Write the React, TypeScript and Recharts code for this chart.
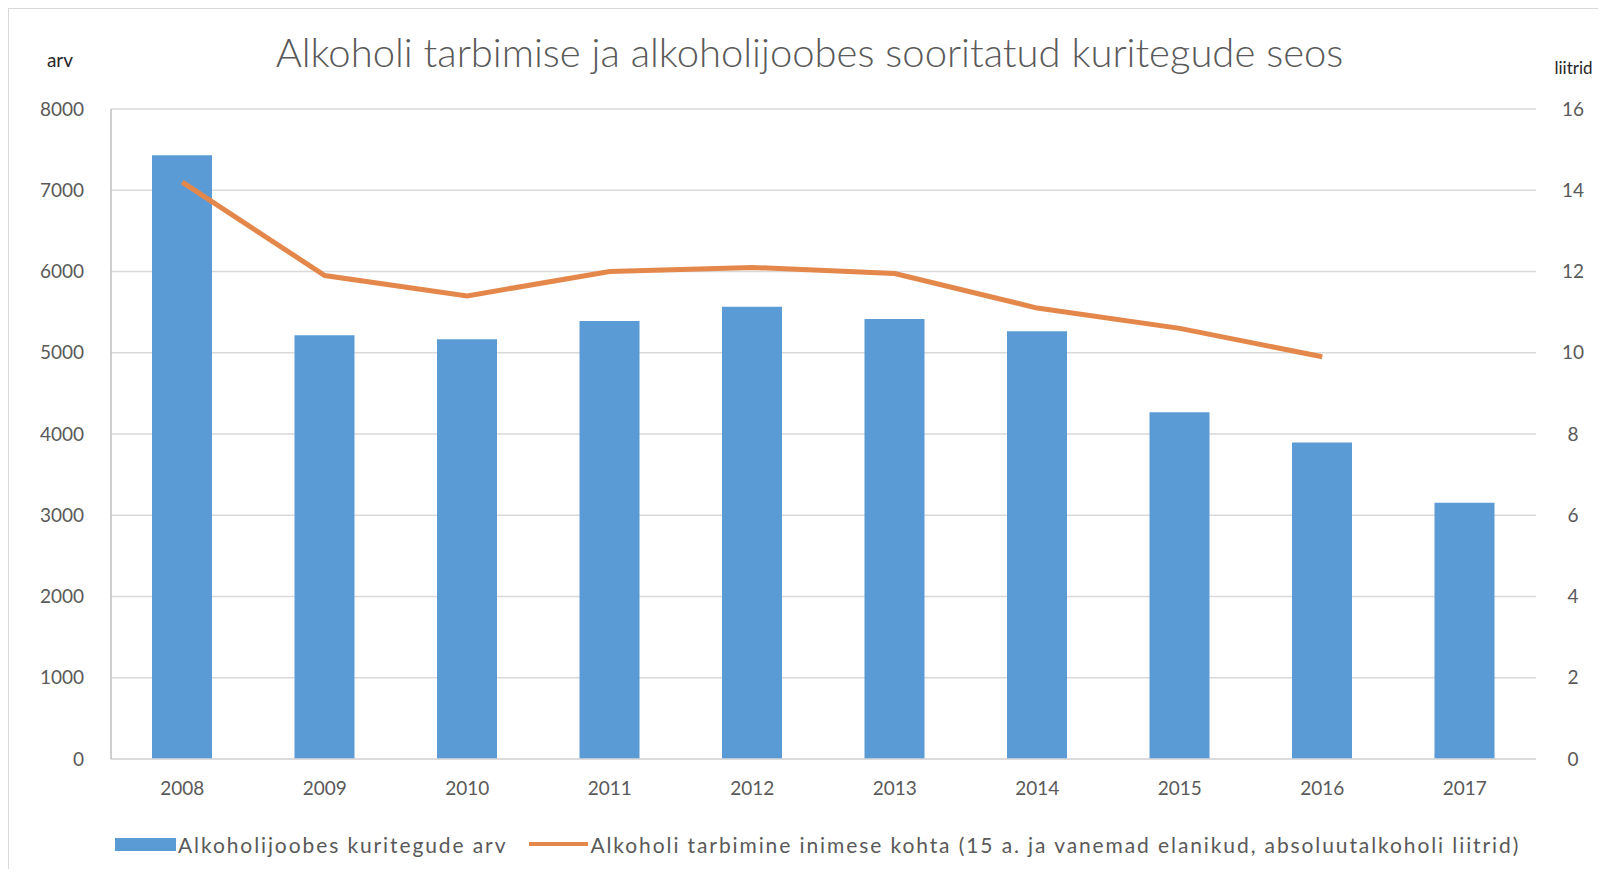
import React from "react";
import { ComposedChart, Bar, Line, XAxis, YAxis, CartesianGrid, Legend } from "recharts";

// values
const years = ["2008", "2009", "2010", "2011", "2012", "2013", "2014", "2015", "2016", "2017"];
const crimes = [7430, 5215, 5165, 5390, 5565, 5415, 5265, 4268, 3895, 3153];
const litres = [14.2, 11.9, 11.4, 12.0, 12.1, 11.95, 11.1, 10.6, 9.9, null];
const leftTicks = [0, 1000, 2000, 3000, 4000, 5000, 6000, 7000, 8000];
const rightTicks = [0, 2, 4, 6, 8, 10, 12, 14, 16];

const data = years.map((year, i) => ({ year, crimes: crimes[i], litres: litres[i] }));

const FONT = "Lato, 'Open Sans', sans-serif";
const BLUE = "#5b9bd5";
const ORANGE = "#e4874a";
const GREY_TEXT = "#595959";

const barName = "Alkoholijoobes kuritegude arv";
const lineName = "Alkoholi tarbimine inimese kohta (15 a. ja vanemad elanikud, absoluutalkoholi liitrid)";

const LegendBox = () => (
  <div
    style={{
      display: "flex",
      alignItems: "center",
      paddingLeft: 106,
      height: 40,
      fontFamily: FONT,
      fontSize: 21,
      letterSpacing: 1.9,
      color: GREY_TEXT,
      whiteSpace: "nowrap",
    }}
  >
    <span style={{ width: 61, height: 13, background: BLUE, display: "inline-block", marginRight: 2 }} />
    <span>{barName}</span>
    <span style={{ width: 59, height: 4, background: ORANGE, display: "inline-block", marginLeft: 22, marginRight: 2 }} />
    <span>{lineName}</span>
  </div>
);

export default function App() {
  return (
    <div
      style={{
        position: "relative",
        width: 1590,
        height: 861,
        boxSizing: "border-box",
        borderTop: "1px solid #d9d9d9",
        borderLeft: "1px solid #d9d9d9",
        overflow: "hidden",
        background: "#fff",
      }}
    >
      <div
        style={{
          position: "absolute",
          top: 19,
          left: 12,
          right: 0,
          textAlign: "center",
          fontFamily: FONT,
          fontWeight: 300,
          fontSize: 40,
          color: GREY_TEXT,
          zIndex: 1,
          whiteSpace: "nowrap",
        }}
      >
        Alkoholi tarbimise ja alkoholijoobes sooritatud kuritegude seos
      </div>
      <ComposedChart
        width={1588}
        height={859}
        data={data}
        margin={{ top: 100, right: 0, left: 0, bottom: 4 }}
      >
        <CartesianGrid yAxisId="left" vertical={false} stroke="#d9d9d9" strokeWidth={1.5} />
        <XAxis
          dataKey="year"
          height={65}
          tickLine={false}
          tickSize={0}
          tickMargin={23}
          axisLine={{ stroke: "#d9d9d9", strokeWidth: 1.5 }}
          tick={{ fill: GREY_TEXT, fontSize: 19, fontFamily: FONT }}
        />
        <YAxis
          yAxisId="left"
          width={102}
          domain={[0, 8000]}
          ticks={leftTicks}
          tickLine={false}
          tickSize={0}
          tickMargin={27}
          axisLine={{ stroke: "#bfbfbf", strokeWidth: 1.5 }}
          tick={{ fill: GREY_TEXT, fontSize: 19, fontFamily: FONT }}
          label={{ value: "arv", position: "top", offset: 42, fill: "#262626", fontSize: 19, fontFamily: FONT }}
        />
        <YAxis
          yAxisId="right"
          orientation="right"
          width={61}
          domain={[0, 16]}
          ticks={rightTicks}
          tickLine={false}
          tickSize={0}
          tickMargin={37}
          axisLine={false}
          tick={{ fill: GREY_TEXT, fontSize: 19, fontFamily: FONT, textAnchor: "middle" }}
          label={{ value: "liitrid", position: "top", offset: 35, dx: 7, fill: "#262626", fontSize: 17, fontFamily: FONT }}
        />
        <Legend verticalAlign="bottom" height={40} content={<LegendBox />} />
        <Bar yAxisId="left" dataKey="crimes" name={barName} fill={BLUE} barSize={60} isAnimationActive={false} />
        <Line
          yAxisId="right"
          type="linear"
          dataKey="litres"
          name={lineName}
          stroke={ORANGE}
          strokeWidth={5}
          dot={false}
          activeDot={false}
          connectNulls={false}
          isAnimationActive={false}
        />
      </ComposedChart>
    </div>
  );
}
